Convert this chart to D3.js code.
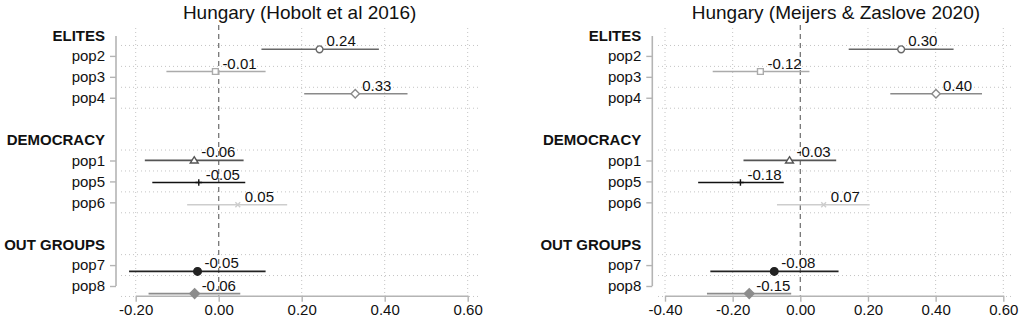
<!DOCTYPE html>
<html><head><meta charset="utf-8">
<script src="https://cdn.jsdelivr.net/npm/d3@7"></script>
<style>
body{margin:0;background:#fff}
svg{display:block;font-family:"Liberation Sans",Arial,Helvetica,sans-serif}
</style>
</head><body>
<svg id="c" width="1021" height="323"></svg>
<script>
// ---- data ----
const groups = ["ELITES", "DEMOCRACY", "OUT GROUPS"];
const categories = ["pop2", "pop3", "pop4", "pop1", "pop5", "pop6", "pop7", "pop8"];
const groupOf = [0, 0, 0, 1, 1, 1, 2, 2];

const titles = ["Hungary (Hobolt et al 2016)", "Hungary (Meijers & Zaslove 2020)"];

const hoboltEst = [0.243, -0.008, 0.329, -0.059, -0.048, 0.046, -0.051, -0.058];
const hoboltLo  = [0.103, -0.126, 0.206, -0.178, -0.160, -0.076, -0.216, -0.169];
const hoboltHi  = [0.386, 0.113, 0.455, 0.060, 0.064, 0.165, 0.113, 0.052];

const meijersEst = [0.298, -0.118, 0.401, -0.032, -0.177, 0.069, -0.077, -0.151];
const meijersLo  = [0.143, -0.259, 0.266, -0.168, -0.302, -0.069, -0.266, -0.276];
const meijersHi  = [0.453, 0.027, 0.537, 0.106, -0.049, 0.205, 0.113, -0.027];

const xTicksLeft  = [-0.2, 0, 0.2, 0.4, 0.6];
const xTicksRight = [-0.4, -0.2, 0, 0.2, 0.4, 0.6];

// ---- styles ----
const shapes = ["circle", "square", "diamond", "triangle", "plus", "x", "dot", "fdiamond"];
const colors = ["#686868", "#ababab", "#8a8a8a", "#555555", "#111111", "#cdcdcd", "#222222", "#8c8c8c"];

const svg = d3.select("#c");

// slot layout (header, items, blank)
const withinIdx = categories.map((c, i) => groupOf.slice(0, i).filter(g => g === groupOf[i]).length);
const slotOf = categories.map((c, i) => groupOf[i] * 5 + 1 + withinIdx[i]);
const headerSlot = groups.map((g, i) => i * 5);
const gridSlots = [];
groups.forEach((g, gi) => {
  gridSlots.push(headerSlot[gi] + 0.5);
  slotOf.forEach((s, i) => { if (groupOf[i] === gi) gridSlots.push(s + 0.5); });
});

const labelY = d3.scaleLinear().domain([0, 12]).range([35, 286]);
const markY = d3.scaleLinear().domain([1, 12]).range([49.3, 293.6]);
const axisYpos = 295.7;

function symbolPath(shape, r) {
  switch (shape) {
    case "circle": case "dot":
      return `M${-r},0A${r},${r} 0 1,0 ${r},0A${r},${r} 0 1,0 ${-r},0Z`;
    case "square":
      return `M${-r},${-r}H${r}V${r}H${-r}Z`;
    case "diamond": case "fdiamond":
      return `M0,${-r}L${r},0L0,${r}L${-r},0Z`;
    case "triangle":
      return `M0,${-r}L${r * 1.1},${r * 0.75}L${-r * 1.1},${r * 0.75}Z`;
    case "plus":
      return `M${-r},0H${r}M0,${-r}V${r}`;
    case "x":
      return `M${-r},${-r}L${r},${r}M${-r},${r}L${r},${-r}`;
  }
}
const symSize = { circle: 3.4, square: 2.9, diamond: 4.2, triangle: 3.6, plus: 3.3, x: 2.4, dot: 3.8, fdiamond: 4.8 };

const panels = [
  { axisX: 116, range: [135.7, 467.7], domain: [-0.2, 0.6], ticks: xTicksLeft, est: hoboltEst, lo: hoboltLo, hi: hoboltHi, left: 121, title: titles[0] },
  { axisX: 652.3, range: [665, 1003.3], domain: [-0.4, 0.6], ticks: xTicksRight, est: meijersEst, lo: meijersLo, hi: meijersHi, left: 658, title: titles[1] }
];

const fmt = d3.formatLocale({ decimal: ".", thousands: ",", grouping: [3], currency: ["", ""], minus: "-" }).format(".2f");

panels.forEach(p => {
  const x = d3.scaleLinear().domain(p.domain).range(p.range);
  const right = p.range[1] + 10.5;
  const g = svg.append("g");

  // title
  g.append("text").attr("x", (p.left + right) / 2).attr("y", 18.5)
    .attr("text-anchor", "middle").attr("font-size", 19).attr("fill", "#111").text(p.title);

  // horizontal dotted gridlines
  g.selectAll("line.hg").data(gridSlots).join("line")
    .attr("x1", p.left).attr("x2", right)
    .attr("y1", d => labelY(d)).attr("y2", d => labelY(d))
    .attr("stroke", "#c4c4c4").attr("stroke-width", 1).attr("stroke-dasharray", "1,3");

  // vertical gridlines
  g.selectAll("line.vg").data(p.ticks.filter(t => t !== 0)).join("line")
    .attr("x1", d => x(d)).attr("x2", d => x(d))
    .attr("y1", 28).attr("y2", axisYpos)
    .attr("stroke", "#c4c4c4").attr("stroke-width", 1).attr("stroke-dasharray", "1,3");

  // zero reference line
  g.append("line").attr("x1", x(0)).attr("x2", x(0)).attr("y1", 25).attr("y2", axisYpos)
    .attr("stroke", "#777").attr("stroke-width", 1.3).attr("stroke-dasharray", "5,4");

  // y axis
  const yAxis = d3.axisLeft(labelY).tickValues(slotOf)
    .tickFormat(s => categories[slotOf.indexOf(s)]).tickSize(6).tickSizeOuter(0).tickPadding(5);
  const ya = g.append("g").attr("transform", `translate(${p.axisX},0)`).call(yAxis);
  ya.select(".domain").attr("stroke", "#b4b4b4").attr("stroke-width", 1.6)
    .attr("d", `M0,${labelY(0) + 1}V${labelY(12)}`);
  ya.selectAll(".tick line").attr("stroke", "#b4b4b4").attr("stroke-width", 1.4);
  ya.selectAll(".tick text").attr("font-size", 15).attr("fill", "#111")
    .attr("font-family", "Liberation Sans, Arial, sans-serif");

  // group headers
  g.selectAll("text.hd").data(groups).join("text")
    .attr("x", p.axisX - 11).attr("y", (d, i) => labelY(headerSlot[i]))
    .attr("dy", "0.38em").attr("text-anchor", "end")
    .attr("font-size", 15).attr("font-weight", "bold").attr("fill", "#111").text(d => d);

  // x axis
  const xAxis = d3.axisBottom(x).tickValues(p.ticks).tickFormat(fmt).tickSize(6).tickSizeOuter(0);
  const xa = g.append("g").attr("transform", `translate(0,${axisYpos})`).call(xAxis);
  xa.select(".domain").attr("stroke", "#b4b4b4").attr("stroke-width", 1.6);
  xa.selectAll(".tick line").attr("stroke", "#b4b4b4").attr("stroke-width", 1.4);
  xa.selectAll(".tick text").attr("font-size", 15).attr("fill", "#111")
    .attr("font-family", "Liberation Sans, Arial, sans-serif");

  // CI lines
  g.selectAll("line.ci").data(categories).join("line")
    .attr("x1", (d, i) => x(p.lo[i])).attr("x2", (d, i) => x(p.hi[i]))
    .attr("y1", (d, i) => markY(slotOf[i])).attr("y2", (d, i) => markY(slotOf[i]))
    .attr("stroke", (d, i) => colors[i]).attr("stroke-width", 1.6);

  // markers
  g.selectAll("path.mk").data(categories).join("path")
    .attr("transform", (d, i) => `translate(${x(p.est[i])},${markY(slotOf[i])})`)
    .attr("d", (d, i) => symbolPath(shapes[i], symSize[shapes[i]]))
    .attr("fill", (d, i) => (shapes[i] === "dot" || shapes[i] === "fdiamond") ? colors[i] : "#fff")
    .attr("fill-opacity", (d, i) => (shapes[i] === "plus" || shapes[i] === "x") ? 0 : 1)
    .attr("stroke", (d, i) => colors[i]).attr("stroke-width", 1.4);

  // value labels
  g.selectAll("text.vl").data(categories).join("text")
    .attr("x", (d, i) => x(p.est[i]) + 7).attr("y", (d, i) => markY(slotOf[i]) - 3)
    .attr("font-size", 15).attr("fill", "#111").text((d, i) => fmt(p.est[i]));
});
</script>
</body></html>
